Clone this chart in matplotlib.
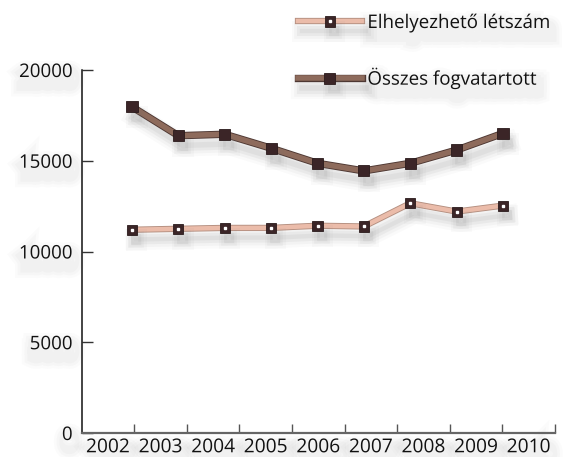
import matplotlib
matplotlib.use("Agg")
import matplotlib.pyplot as plt
import matplotlib.patheffects as pe

years = ["2002", "2003", "2004", "2005", "2006", "2007", "2008", "2009", "2010"]
capacity = [11200, 11250, 11300, 11300, 11420, 11380, 12660, 12200, 12530]
inmates = [17970, 16380, 16460, 15690, 14860, 14440, 14860, 15590, 16510]
y_ticks = [0, 5000, 10000, 15000, 20000]
label_cap = "Elhelyezhető létszám"
label_inm = "Összes fogvatartott"

plt.rcParams['font.family'] = ['Open Sans', 'DejaVu Sans']

fig = plt.figure(figsize=(5.65, 4.57), dpi=100)
ax = fig.add_axes([81.7/565, 1-433/457, (555-81.7)/565, (433-70)/457])

SH = (0.45, 0.45, 0.45)

def text_shadow():
    effs = []
    for lw, a in [(16, 0.025), (12, 0.03), (8, 0.035)]:
        effs.append(pe.PathPatchEffect(offset=(1.5, -6), facecolor='none', edgecolor=SH,
                                       linewidth=lw, alpha=a))
    effs.append(pe.Normal())
    return effs

def line_fx(base_lw, edge):
    effs = []
    for lw, a in [(base_lw+12, 0.035), (base_lw+8, 0.05), (base_lw+4, 0.07), (base_lw, 0.08)]:
        effs.append(pe.Stroke(linewidth=lw, foreground=SH + (a,), offset=(3, -7)))
    effs.append(pe.Stroke(linewidth=base_lw+1.3, foreground=edge))
    effs.append(pe.Normal())
    return effs

def marker_fx():
    effs = []
    for lw, a in [(8, 0.035), (4, 0.055)]:
        effs.append(pe.PathPatchEffect(offset=(3, -7), facecolor=SH, edgecolor=SH,
                                       linewidth=lw, alpha=a))
    effs.append(pe.Normal())
    return effs

# category axis
n = len(years)
ax.set_xlim(0, n)
ax.set_ylim(0, 20000)
ax.set_xticks(range(1, n+1))
ax.set_xticklabels([])
ax.set_xticks([i + 0.5 for i in range(n)], minor=True)
ax.set_xticklabels(years, minor=True)
ax.tick_params(axis='x', which='major', direction='in', length=6.5, width=1, color='#555555')
ax.tick_params(axis='x', which='minor', length=0, pad=3.8, labelsize=13.8, labelcolor='#111111')
ax.set_yticks(y_ticks)
ax.set_yticklabels([str(v) for v in y_ticks])
ax.tick_params(axis='y', direction='in', length=8, width=1, color='#333333', pad=6.5,
               labelsize=13.5, labelcolor='#111111')
for lab in ax.get_xticklabels(minor=True) + ax.get_yticklabels():
    lab.set_path_effects(text_shadow())
for s in ['top', 'right']:
    ax.spines[s].set_visible(False)
ax.spines['left'].set_color('#111111')
ax.spines['left'].set_linewidth(1.1)
ax.spines['bottom'].set_color('#666666')
ax.spines['bottom'].set_linewidth(1.6)

# data axis (points are drawn slightly compressed relative to category labels)
ax2 = ax.twiny()
ax2.set_xlim(-1.085, 9.121)
ax2.set_ylim(0, 20000)
ax2.axis('off')
xs = list(range(n))

MK = '#3b2527'

l_inm, = ax2.plot(xs, inmates, color='#8e6b5c', lw=4, zorder=3)
l_inm.set_path_effects(line_fx(4, '#4d3732'))
m_inm, = ax2.plot(xs, inmates, linestyle='none', marker='s', markersize=8,
                  markerfacecolor=MK, markeredgecolor='#2a1a1b', markeredgewidth=0.6, zorder=4)
m_inm.set_path_effects(marker_fx())

l_cap, = ax2.plot(xs, capacity, color='#ebbcaa', lw=3.2, zorder=3)
l_cap.set_path_effects(line_fx(3.2, '#b48f80'))
m_cap, = ax2.plot(xs, capacity, linestyle='none', marker='s', markersize=7.3,
                  markerfacecolor=MK, markeredgecolor='#2a1a1b', markeredgewidth=0.6, zorder=4)
m_cap.set_path_effects(marker_fx())
d_cap, = ax2.plot(xs, capacity, linestyle='none', marker='s', markersize=1.6,
                  markerfacecolor='white', markeredgecolor='white', zorder=5)

leg = fig.legend([(l_cap, m_cap, d_cap), (l_inm, m_inm)], [label_cap, label_inm],
                 loc='upper left', bbox_to_anchor=(298/565, 1-14/457),
                 frameon=False, borderpad=0, borderaxespad=0,
                 handlelength=3.4, handletextpad=0.3, labelspacing=1.9,
                 fontsize=13.5, numpoints=1)
for t in leg.get_texts():
    t.set_color('#111111')
    t.set_path_effects(text_shadow())

fig.savefig("out.png", dpi=100)
